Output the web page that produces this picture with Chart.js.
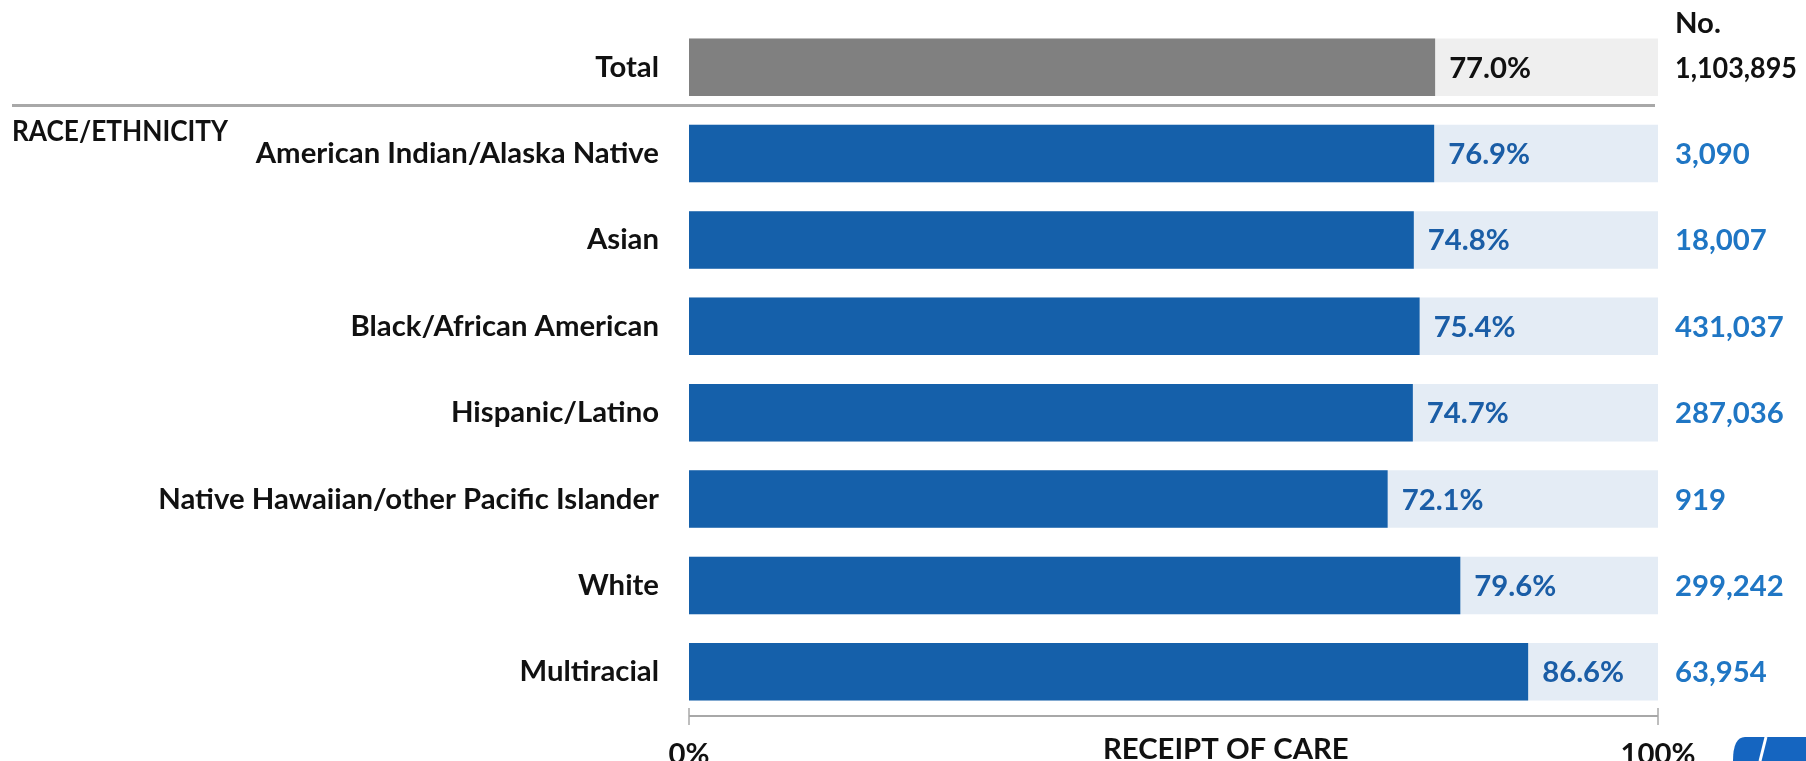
<!DOCTYPE html>
<html><head><meta charset="utf-8">
<script src="https://cdn.jsdelivr.net/npm/chart.js@4"></script>
<style>html,body{margin:0;padding:0;background:#fff;overflow:hidden}</style>
</head><body>
<canvas id="c" width="1806" height="761" style="width:1806px;height:761px;display:block"></canvas>
<script>
const categories = ['Total','American Indian/Alaska Native','Asian','Black/African American','Hispanic/Latino','Native Hawaiian/other Pacific Islander','White','Multiracial'];
const receiptOfCare = [77.0, 76.9, 74.8, 75.4, 74.7, 72.1, 79.6, 86.6];
const counts = ['1,103,895','3,090','18,007','431,037','287,036','919','299,242','63,954'];
const trackMax = [100, 100, 100, 100, 100, 100, 100, 100];
const axisTicks = [0, 100];
const axisTickLabels = ['0%', '100%'];
const groupLabel = 'RACE/ETHNICITY';
const axisTitle = 'RECEIPT OF CARE';
const countHeader = 'No.';

function pickFamily(){
  const c = document.createElement('canvas').getContext('2d');
  const s = 'Native Hawaiian/other Pacific Islander';
  c.font = 'bold 40px monospace'; const mono = c.measureText(s).width;
  c.font = 'bold 40px "Liberation Sans Narrow", monospace'; const n = c.measureText(s).width;
  if (Math.abs(n - mono) > 1) return '"Liberation Sans Narrow"';
  return 'Lato';
}
const FAMILY = pickFamily();
const SIZE = (function(){
  const c = document.createElement('canvas').getContext('2d');
  c.font = 'bold 40px ' + FAMILY;
  const w = c.measureText('Native Hawaiian/other Pacific Islander').width;
  return Math.round(40 * 501 / w * 10) / 10;
})();
const font = {family: FAMILY, size: SIZE, weight: 'bold'};
const fontStr = 'bold ' + SIZE + 'px ' + FAMILY;

const BLUE = '#1560AA', BLUE_TRACK = '#E4ECF5', GRAY = '#808080', GRAY_TRACK = '#EFEFEF';
const PCT_BLUE = '#1A5DA6', NUM_BLUE = '#1F76C4', LINE = '#A8A8A8';

function fitText(ctx, text, x, y, maxW){
  const w = ctx.measureText(text).width;
  if (w <= maxW) { ctx.fillText(text, x, y); return; }
  ctx.save();
  ctx.translate(x, y);
  ctx.scale(maxW / w, 1);
  ctx.fillText(text, 0, 0);
  ctx.restore();
}

const overlay = {
  id: 'overlay',
  afterDraw(chart){
    const ctx = chart.ctx, xs = chart.scales.x, ca = chart.chartArea;
    const meta = chart.getDatasetMeta(0);
    ctx.save();
    ctx.font = fontStr;
    ctx.textBaseline = 'middle';
    meta.data.forEach((bar, i) => {
      ctx.textAlign = 'left';
      ctx.fillStyle = i === 0 ? '#111' : PCT_BLUE;
      ctx.fillText(receiptOfCare[i].toFixed(1) + '%', bar.x + 14, bar.y + 1);
      ctx.fillStyle = i === 0 ? '#111' : NUM_BLUE;
      fitText(ctx, counts[i], ca.right + 17, bar.y + 1, 122);
    });
    ctx.fillStyle = '#111';
    ctx.fillText(countHeader, ca.right + 17, meta.data[0].y - 44);
    fitText(ctx, groupLabel, 12, meta.data[1].y - 22, 216);
    const sepY = (meta.data[0].y + meta.data[1].y) / 2 - 5;
    ctx.strokeStyle = LINE; ctx.lineWidth = 3;
    ctx.beginPath(); ctx.moveTo(12, sepY); ctx.lineTo(ca.right - 3, sepY); ctx.stroke();
    const x0 = xs.getPixelForValue(0), x1 = xs.getPixelForValue(100), ay = ca.bottom + 1;
    ctx.lineWidth = 2;
    ctx.beginPath(); ctx.moveTo(x0, ay); ctx.lineTo(x1, ay); ctx.stroke();
    ctx.lineWidth = 1.5;
    axisTicks.forEach(v => {
      const px = xs.getPixelForValue(v);
      ctx.beginPath(); ctx.moveTo(px, ay - 8); ctx.lineTo(px, ay + 9); ctx.stroke();
    });
    ctx.textAlign = 'center';
    ctx.fillStyle = '#111';
    ctx.fillText(axisTitle, xs.getPixelForValue(55.4), 750);
    ctx.fillStyle = '#1565C0';
    ctx.beginPath();
    ctx.moveTo(1745, 737); ctx.lineTo(1806, 737); ctx.lineTo(1806, 761); ctx.lineTo(1733, 761);
    ctx.quadraticCurveTo(1733, 737, 1745, 737); ctx.fill();
    ctx.strokeStyle = '#fff'; ctx.lineWidth = 3;
    ctx.beginPath(); ctx.moveTo(1766, 737); ctx.lineTo(1760, 761); ctx.stroke();
    ctx.restore();
  }
};

new Chart(document.getElementById('c'), {
  type: 'bar',
  data: {
    labels: categories,
    datasets: [
      {data: receiptOfCare, backgroundColor: categories.map((c, i) => i === 0 ? GRAY : BLUE),
       order: 1, grouped: false, barPercentage: 0.667, categoryPercentage: 1},
      {data: trackMax, backgroundColor: categories.map((c, i) => i === 0 ? GRAY_TRACK : BLUE_TRACK),
       order: 2, grouped: false, barPercentage: 0.667, categoryPercentage: 1}
    ]
  },
  options: {
    indexAxis: 'y',
    responsive: false,
    animation: false,
    events: [],
    layout: {padding: {left: 0, right: 148, top: 24, bottom: 0}},
    plugins: {legend: {display: false}, tooltip: {enabled: false}},
    scales: {
      x: {
        min: 0, max: 100,
        afterBuildTicks: s => { s.ticks = axisTicks.map(v => ({value: v})); },
        ticks: {callback: v => axisTickLabels[axisTicks.indexOf(v)], font: font, color: '#111',
                padding: 22, maxRotation: 0, autoSkip: false},
        grid: {display: false, drawTicks: false},
        border: {display: false},
        afterFit: s => { s.height = 46; s.paddingLeft = 0; s.paddingRight = 0; }
      },
      y: {
        ticks: {font: font, color: '#111', padding: 30, autoSkip: false},
        grid: {display: false, drawTicks: false},
        border: {display: false},
        afterFit: s => { s.width = 689; s.paddingTop = 0; s.paddingBottom = 0; }
      }
    }
  },
  plugins: [overlay]
});
</script>
</body></html>
